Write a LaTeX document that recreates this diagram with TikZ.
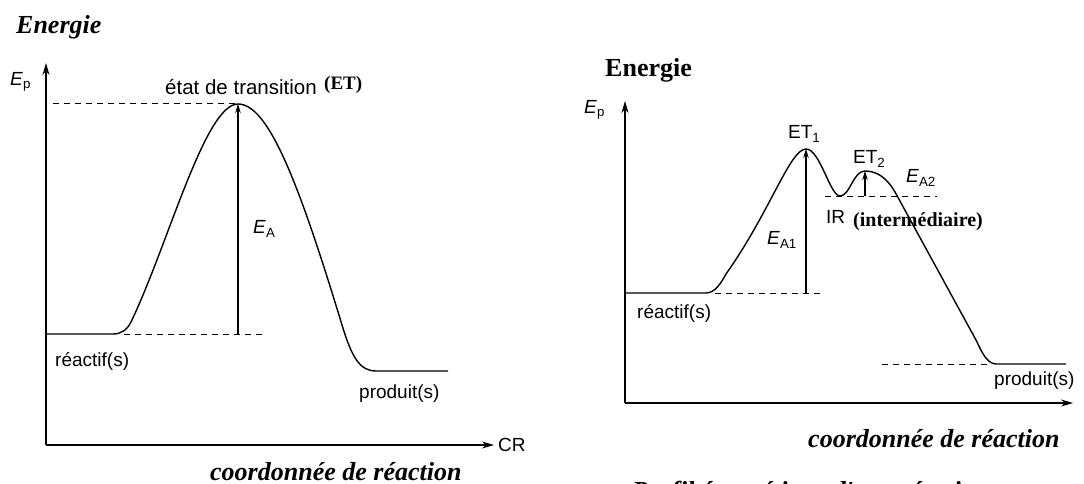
\documentclass[tikz,border=0pt]{standalone}
\usepackage{fontspec}
\setmainfont{Liberation Sans}
\newfontfamily\tnr{Liberation Serif}
\usetikzlibrary{arrows.meta}
\begin{document}
\begin{tikzpicture}[x=1pt,y=-1pt,
 curve/.style={line width=1.4pt, line join=round},
 axis/.style={line width=1.2pt, -{Stealth[length=12pt,width=7pt]}},
 dashline/.style={line width=1pt, dash pattern=on 6pt off 5pt},
 earrow/.style={line width=1.1pt, -{Stealth[length=9pt,width=5.5pt]}},
 sans/.style={inner sep=0pt, font=\fontsize{19}{22}\selectfont},
 bserif/.style={inner sep=0pt, font=\tnr\bfseries\fontsize{19}{22}\selectfont},
 title/.style={inner sep=0pt, font=\tnr\bfseries\itshape\fontsize{26}{30}\selectfont},
 ttl/.style={inner sep=0pt, font=\tnr\bfseries\fontsize{26}{30}\selectfont},
]
\useasboundingbox (0,0) rectangle (1084,484);
% ---------------- left diagram ----------------
\node[title, anchor=base west] (en1) at (16,34) {Energie};
\coordinate (o1) at (46,445);
\coordinate (yt1) at (46,63);
\coordinate (xt1) at (494,445);
\draw[axis] (o1) -- (yt1);
\draw[axis] (o1) -- (xt1);
\node[sans, anchor=west] (ep1) at (10,82) {\textit{E}\textsubscript{p}};
\node[sans, anchor=west] (cr) at (498,445) {CR};
\coordinate (pk1) at (238,104);
\coordinate (rb1) at (238,334);
\draw[curve] (46,334) -- (113,334) .. controls (121,334) and (127,330) .. (131,322)
  .. controls (168,245) and (205,104) .. (pk1)
  .. controls (268,104) and (298,180) .. (342,325)
  .. controls (352,358) and (360,371) .. (376,371) -- (448,371);
\draw[dashline] (53,104) -- (pk1);
\draw[dashline] (124,334) -- (263,334);
\draw[earrow] (rb1) -- (pk1);
\node[sans, anchor=west, font=\fontsize{20.5}{24}\selectfont] (ts) at (165,87) {état de transition};
\node[bserif, anchor=west] (et) at (324,85) {(ET)};
\node[sans, anchor=west] (ea) at (253,229) {\textit{E}\textsubscript{A}};
\node[sans, anchor=west] (re1) at (55,361) {réactif(s)};
\node[sans, anchor=west] (pr1) at (359,394) {produit(s)};
\node[title, anchor=base west] (cdr1) at (210,480) {coordonnée de réaction};
% ---------------- right diagram ----------------
\node[ttl, anchor=base west] (en2) at (605,77) {Energie};
\coordinate (o2) at (625,403);
\coordinate (yt2) at (625,101);
\coordinate (xt2) at (1073,403);
\draw[axis] (o2) -- (yt2);
\draw[axis] (o2) -- (xt2);
\node[sans, anchor=west] (ep2) at (584,110) {\textit{E}\textsubscript{p}};
\coordinate (pk2) at (806,149);
\coordinate (rb2) at (806,293);
\coordinate (ir2) at (840,196);
\coordinate (pk3) at (865,171);
\coordinate (rb3) at (865,196);
\draw[curve] (625,293) -- (706,293) .. controls (715,293) and (721,283) .. (726,274)
  .. controls (770,212) and (790,149) .. (pk2)
  .. controls (820,149) and (830,196) .. (ir2)
  .. controls (850,196) and (853,171) .. (pk3)
  .. controls (877,171) and (887,178) .. (895,192)
  -- (976,340) .. controls (980,348) and (986,364) .. (996,364) -- (1066,364);
\draw[dashline] (715,293) -- (824,293);
\draw[dashline] (825,196) -- (937,196);
\draw[dashline] (882,364) -- (990,364);
\draw[earrow] (rb2) -- (pk2);
\draw[earrow] (rb3) -- (pk3);
\node[sans, anchor=west] (et1) at (788,134) {ET\textsubscript{1}};
\node[sans, anchor=west] (et2) at (853,159) {ET\textsubscript{2}};
\node[sans, anchor=west] (ea2) at (906,178) {\textit{E}\textsubscript{A2}};
\node[sans, anchor=west] (ir) at (826,217) {IR};
\node[bserif, anchor=west, font=\tnr\bfseries\fontsize{20}{23}\selectfont] (im) at (853,222) {(intermédiaire)};
\node[sans, anchor=west] (ea1) at (767,240) {\textit{E}\textsubscript{A1}};
\node[sans, anchor=west] (re2) at (637,313) {réactif(s)};
\node[sans, anchor=west] (pr2) at (994,381) {produit(s)};
\node[title, anchor=base west] (cdr2) at (808,447) {coordonnée de réaction};
\node[title, anchor=base west] (pf) at (632,499) {Profil énergétique d'une réaction};
\end{tikzpicture}
\end{document}
